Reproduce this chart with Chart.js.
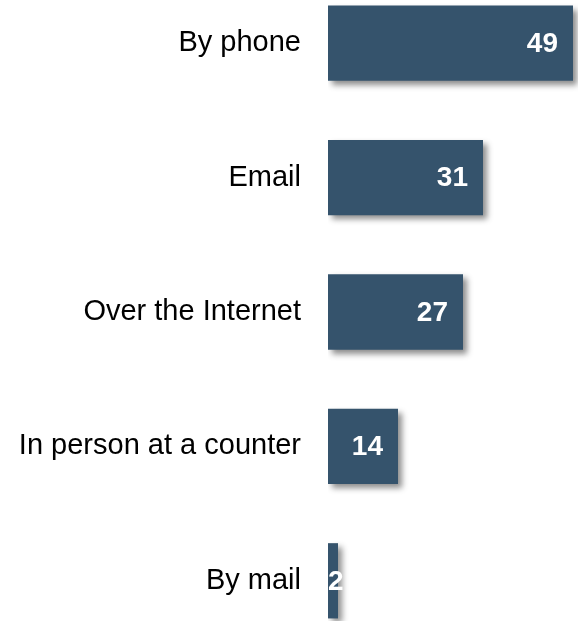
<!DOCTYPE html>
<html>
<head>
<meta charset="utf-8">
<script src="https://cdn.jsdelivr.net/npm/chart.js@4"></script>
<style>
  html, body { margin: 0; padding: 0; background: #fff; overflow: hidden; }
  #wrap { position: relative; width: 578px; height: 621px; overflow: hidden; }
  #chart { position: absolute; left: 0; top: -24px; }
</style>
</head>
<body>
<div id="wrap"><canvas id="chart" width="578" height="672"></canvas></div>
<script>
// chart data
const categories = ["By phone", "Email", "Over the Internet", "In person at a counter", "By mail"];
const values = [49, 31, 27, 14, 2];

const BAR_COLOR = "#35536c";

// soft drop shadow under the bars
const barShadow = {
  id: "barShadow",
  beforeDatasetDraw(chart) {
    const ctx = chart.ctx;
    ctx.save();
    ctx.shadowColor = "rgba(0,0,0,0.45)";
    ctx.shadowBlur = 6;
    ctx.shadowOffsetX = 4;
    ctx.shadowOffsetY = 4;
  },
  afterDatasetDraw(chart) {
    chart.ctx.restore();
  },
};

// white value labels, inside the end of each bar
const valueLabels = {
  id: "valueLabels",
  afterDatasetsDraw(chart) {
    const ctx = chart.ctx;
    const meta = chart.getDatasetMeta(0);
    ctx.save();
    ctx.font = "bold 28px 'Liberation Sans', Arial, sans-serif";
    ctx.fillStyle = "#ffffff";
    ctx.textBaseline = "middle";
    ctx.textAlign = "left";
    meta.data.forEach((bar, i) => {
      const txt = String(values[i]);
      const w = ctx.measureText(txt).width;
      let x = bar.x - 15 - w;
      if (x < bar.base) x = bar.base;
      ctx.fillText(txt, x, bar.y + 1);
    });
    ctx.restore();
  },
};

new Chart(document.getElementById("chart").getContext("2d"), {
  type: "bar",
  data: {
    labels: categories,
    datasets: [
      {
        data: values,
        backgroundColor: BAR_COLOR,
        borderWidth: 0,
        barPercentage: 0.56,
        categoryPercentage: 1,
      },
    ],
  },
  options: {
    indexAxis: "y",
    responsive: false,
    animation: false,
    layout: { padding: 0 },
    plugins: {
      legend: { display: false },
      tooltip: { enabled: false },
    },
    scales: {
      x: {
        display: false,
        min: 0,
        max: 50,
      },
      y: {
        grid: { display: false, drawTicks: false },
        border: { display: false },
        afterFit(scale) {
          scale.width = 328;
          // no extra top/bottom room for the labels
          scale.paddingTop = 0;
          scale.paddingBottom = 0;
        },
        ticks: {
          color: "#000000",
          padding: 27,
          font: { family: "'Liberation Sans', Arial, sans-serif", size: 29 },
        },
      },
    },
  },
  plugins: [barShadow, valueLabels],
});
</script>
</body>
</html>
